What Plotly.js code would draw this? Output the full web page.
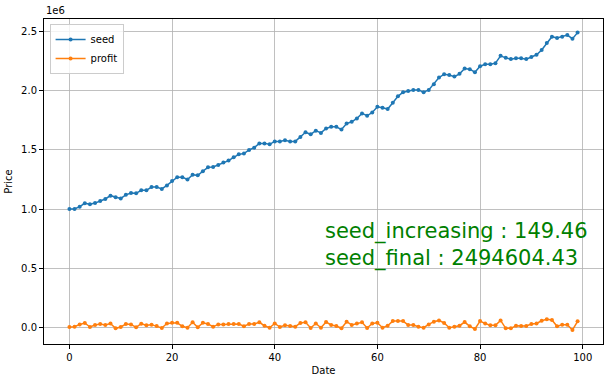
<!DOCTYPE html>
<html>
<head>
<meta charset="utf-8">
<script src="https://cdn.plot.ly/plotly-3.0.1.min.js"></script>
<style>html,body{margin:0;padding:0;background:#fff;}#chart{width:609px;height:382px;}</style>
</head>
<body>
<div id="chart"></div>
<script>
// values in units of 1e6
var dates = [];
for (var i = 0; i < 100; i++) dates.push(i);

var seed = [
  1.000, 1.000, 1.020, 1.048, 1.040, 1.050, 1.068, 1.085, 1.113, 1.100,
  1.090, 1.120, 1.136, 1.133, 1.158, 1.158, 1.186, 1.186, 1.170, 1.200,
  1.237, 1.270, 1.270, 1.250, 1.290, 1.285, 1.320, 1.353, 1.356, 1.373,
  1.395, 1.410, 1.438, 1.463, 1.470, 1.500, 1.520, 1.556, 1.556, 1.548,
  1.573, 1.573, 1.582, 1.573, 1.573, 1.610, 1.650, 1.633, 1.664, 1.645,
  1.682, 1.696, 1.696, 1.673, 1.724, 1.739, 1.767, 1.810, 1.790, 1.818,
  1.866, 1.858, 1.847, 1.900, 1.955, 1.989, 2.000, 2.009, 2.009, 1.989,
  2.009, 2.057, 2.114, 2.142, 2.136, 2.122, 2.145, 2.190, 2.185, 2.159,
  2.210, 2.227, 2.227, 2.236, 2.298, 2.281, 2.270, 2.278, 2.278, 2.270,
  2.287, 2.307, 2.347, 2.406, 2.460, 2.449, 2.460, 2.474, 2.443, 2.4946
];

var profit = [
  0.000, 0.003, 0.022, 0.034, 0.000, 0.017, 0.025, 0.017, 0.030, -0.011,
  0.000, 0.025, 0.022, -0.003, 0.028, 0.014, 0.020, 0.008, -0.008, 0.030,
  0.036, 0.036, 0.006, -0.006, 0.040, -0.003, 0.036, 0.025, 0.003, 0.022,
  0.022, 0.025, 0.025, 0.025, 0.006, 0.025, 0.025, 0.040, 0.011, -0.006,
  0.030, 0.000, 0.014, 0.008, 0.003, 0.034, 0.040, -0.008, 0.030, -0.006,
  0.042, 0.017, 0.008, -0.011, 0.045, 0.017, 0.030, 0.040, -0.008, 0.030,
  0.036, -0.006, 0.011, 0.050, 0.050, 0.050, 0.017, 0.017, 0.003, -0.006,
  0.022, 0.045, 0.056, 0.034, -0.006, 0.003, 0.011, 0.042, 0.006, -0.017,
  0.050, 0.030, 0.014, 0.014, 0.056, -0.011, -0.011, 0.011, 0.008, 0.008,
  0.025, 0.030, 0.053, 0.066, 0.060, 0.006, 0.020, 0.020, -0.025, 0.048
];

var seriesNames = ["seed", "profit"];
var xTicks = [0, 20, 40, 60, 80, 100];
var yTicks = [0.0, 0.5, 1.0, 1.5, 2.0, 2.5];
var infoLines = ["seed_increasing : 149.46", "seed_final : 2494604.43"];

var traces = [
  {x: dates, y: seed, name: seriesNames[0], mode: "lines+markers", type: "scatter",
   line: {color: "#1f77b4", width: 1.5}, marker: {color: "#1f77b4", size: 4}},
  {x: dates, y: profit, name: seriesNames[1], mode: "lines+markers", type: "scatter",
   line: {color: "#ff7f0e", width: 1.5}, marker: {color: "#ff7f0e", size: 4}}
];

var layout = {
  width: 609, height: 382,
  margin: {l: 44, r: 6, t: 19, b: 38, pad: 0},
  paper_bgcolor: "#fff", plot_bgcolor: "#fff",
  font: {family: "DejaVu Sans", size: 10, color: "#000"},
  showlegend: true,
  legend: {x: 0.01, y: 0.985, xanchor: "left", yanchor: "top",
           bgcolor: "rgba(255,255,255,0.8)", bordercolor: "#cccccc", borderwidth: 1,
           font: {size: 10}, tracegroupgap: 2, itemwidth: 30},
  xaxis: {range: [-4.95, 103.95], tickvals: xTicks, ticktext: xTicks.map(String),
          showgrid: true, gridcolor: "#b0b0b0", gridwidth: 0.8, zeroline: false,
          showline: true, linecolor: "#000", linewidth: 1, mirror: true,
          ticks: "outside", ticklen: 4, tickcolor: "#000",
          title: {text: "Date", font: {size: 10}, standoff: 4}},
  yaxis: {range: [-0.144, 2.61], tickvals: yTicks, ticktext: yTicks.map(function(v){return v.toFixed(1);}),
          showgrid: true, gridcolor: "#b0b0b0", gridwidth: 0.8, zeroline: false,
          showline: true, linecolor: "#000", linewidth: 1, mirror: true,
          ticks: "outside", ticklen: 4, tickcolor: "#000",
          title: {text: "Price", font: {size: 10}, standoff: 6}},
  annotations: [
    {xref: "paper", yref: "paper", x: 0, y: 1, xanchor: "left", yanchor: "bottom",
     text: "1e6", showarrow: false, font: {size: 10}, yshift: 1},
    {xref: "x", yref: "y", x: 49.4, y: 0.695, xanchor: "left", yanchor: "middle",
     text: infoLines.join("<br>"), align: "left", showarrow: false,
     font: {size: 21, color: "green"}}
  ]
};

Plotly.newPlot("chart", traces, layout, {displayModeBar: false, staticPlot: true});
</script>
</body>
</html>
